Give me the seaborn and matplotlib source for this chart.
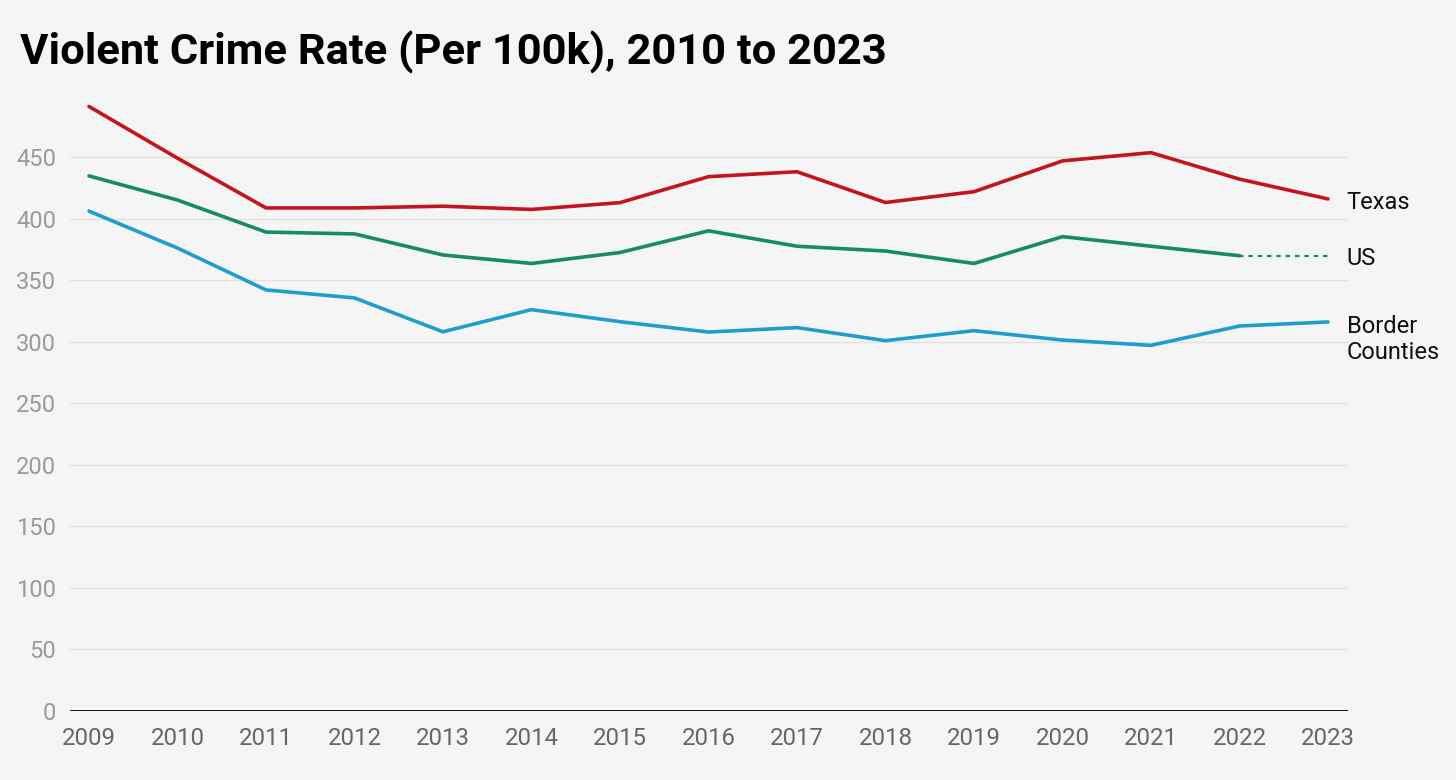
import matplotlib
matplotlib.use("Agg")
import matplotlib.pyplot as plt
import seaborn as sns
import pandas as pd

years = list(range(2009, 2024))
texas = [491.0, 449.0, 408.6, 408.6, 410.0, 407.4, 412.9, 434.0, 438.0, 413.0, 421.8, 446.8, 453.5, 432.0, 415.9]
us = [434.6, 415.0, 389.0, 387.5, 370.4, 363.5, 372.4, 390.0, 377.5, 373.6, 363.5, 385.3, 377.5, 369.8, None]
border = [406.0, 376.0, 342.0, 335.5, 308.0, 326.0, 316.2, 307.8, 311.4, 300.8, 308.9, 301.3, 297.0, 312.7, 316.0]
us_proj_years = [2022, 2023]
us_proj = [369.8, 369.8]
series_names = ["Texas", "US", "Border\nCounties"]
y_ticks = [0, 50, 100, 150, 200, 250, 300, 350, 400, 450]

colors = {"Texas": "#c3161c", "US": "#168a6a", "Border\nCounties": "#1f9dcc"}
bg = "#f5f5f5"

sns.set_theme(style="white")
plt.rcParams["font.family"] = ["Roboto", "DejaVu Sans"]

rows = []
for name, vals in zip(series_names, [texas, us, border]):
    for y, v in zip(years, vals):
        if v is not None:
            rows.append({"year": y, "value": v, "series": name})
df = pd.DataFrame(rows)
proj = pd.DataFrame({"year": us_proj_years, "value": us_proj})

fig = plt.figure(figsize=(14.56, 7.8), dpi=100, facecolor=bg)
ax = fig.add_axes([70/1456, (780-711)/780, (1348-70)/1456, (711-95.4)/780])
ax.set_facecolor(bg)

for yt in y_ticks[1:]:
    ax.axhline(yt, color="#e2e2e2", lw=1.0, zorder=0)

sns.lineplot(data=df, x="year", y="value", hue="series", palette=colors,
             hue_order=series_names, lw=2.6, ax=ax, legend=False, zorder=3)
sns.lineplot(data=proj, x="year", y="value", color=colors["US"], lw=1.6,
             linestyle=(0, (2, 2.2)), ax=ax, legend=False, zorder=3)

ax.axhline(0, color="black", lw=2.0, zorder=4)

ax.set_xlim(2009 - 19/88.5, 2023 + 20/88.5)
ax.set_ylim(0, 500)
ax.set_xticks(years)
ax.set_xticklabels([str(y) for y in years])
ax.set_yticks(y_ticks)
ax.set_yticklabels([str(t) for t in y_ticks])
ax.tick_params(axis="y", length=0, pad=10, labelsize=17, labelcolor="#9a9a9a")
ax.tick_params(axis="x", length=0, pad=11.5, labelsize=17.3, labelcolor="#666666")
ax.set_xlabel("")
ax.set_ylabel("")
for s in ax.spines.values():
    s.set_visible(False)

last_vals = [texas[-1], us_proj[-1], border[-1]]
offsets = [-2.3, -2.3, -12.8]
for name, v, off in zip(series_names, last_vals, offsets):
    ax.annotate(name, xy=(1, v), xycoords=("axes fraction", "data"),
                xytext=(-1, off), textcoords="offset points",
                ha="left", va="center",
                fontsize=17, color="#111111", linespacing=1.15,
                annotation_clip=False)

fig.text(20/1456, 1 - 64/780, "Violent Crime Rate (Per 100k), 2010 to 2023",
         fontsize=31.3, fontweight="bold", color="black", ha="left", va="baseline")

fig.savefig("out.png", dpi=100, facecolor=bg)
